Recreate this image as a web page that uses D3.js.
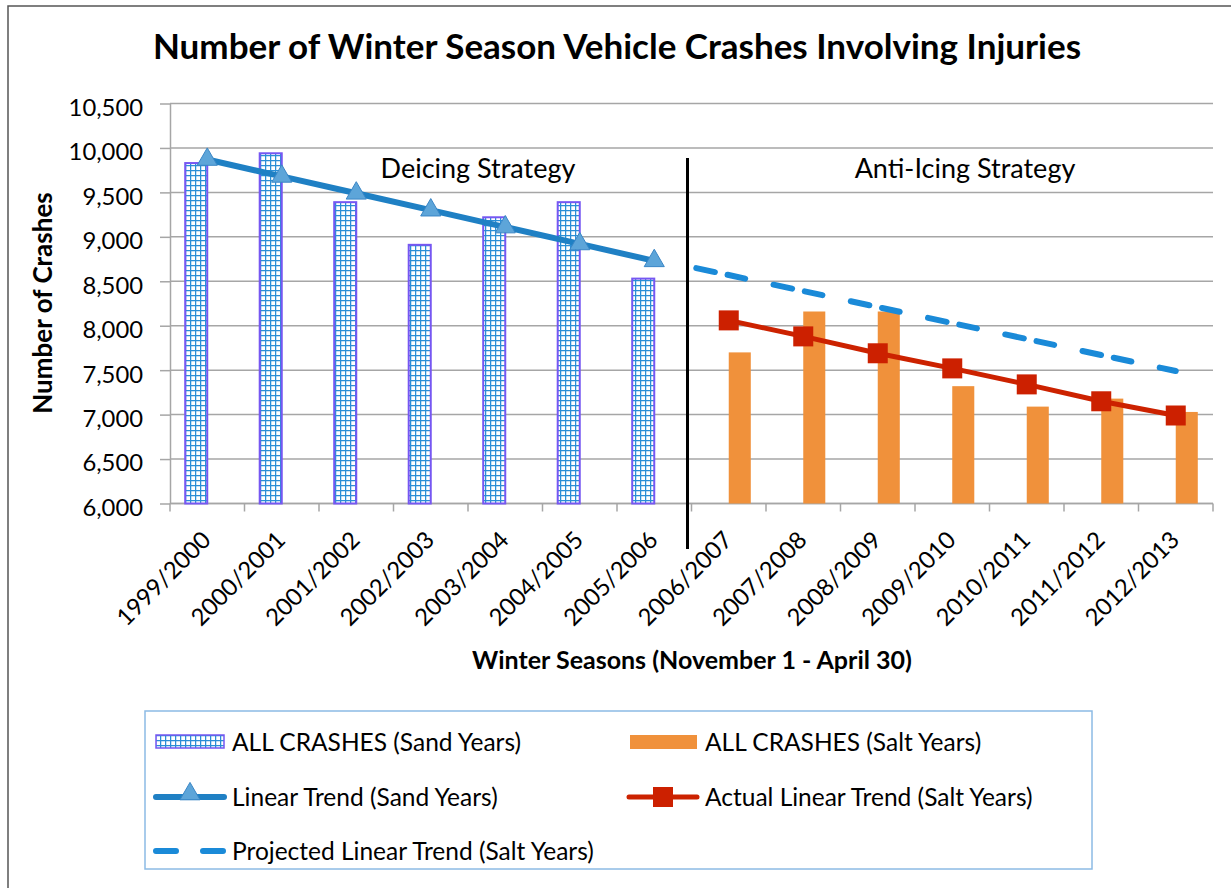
<!DOCTYPE html>
<html>
<head>
<meta charset="utf-8">
<script src="https://cdn.jsdelivr.net/npm/d3@7"></script>
<style>
  body { margin: 0; background: #fff; }
  text { font-family: Lato, "Open Sans", sans-serif; fill: #000; }
</style>
</head>
<body>
<div id="chart"></div>
<script>
// winter seasons (Nov 1 - Apr 30)
const seasons = ['1999/2000', '2000/2001', '2001/2002', '2002/2003', '2003/2004', '2004/2005', '2005/2006',
    '2006/2007', '2007/2008', '2008/2009', '2009/2010', '2010/2011', '2011/2012', '2012/2013'];
const sandSeasons = seasons.slice(0, 7);
const saltSeasons = seasons.slice(7);

// crashes
const sandCrashes = [9830, 9940, 9390, 8910, 9220, 9390, 8530];
const saltCrashes = [7700, 8160, 8160, 7320, 7090, 7180, 7030];
const sandTrend = [9870, 9680, 9490, 9300, 9110, 8920, 8730];
const saltTrend = [8060, 7880, 7690, 7520, 7340, 7150, 6990];
// projected trend starts from the last sand year
const projectedSeasons = seasons.slice(6);
const projectedTrend = [8750, 8570, 8390, 8210, 8030, 7850, 7670, 7490];
const yTicks = [6000, 6500, 7000, 7500, 8000, 8500, 9000, 9500, 10000, 10500];

const width = 1231, height = 888;
const margin = {top: 103.5, right: 18, bottom: 384.5, left: 170};
const plotRight = width - margin.right,
    plotBottom = height - margin.bottom;

const svg = d3.select('#chart')
    .append('svg')
    .attr('width', width)
    .attr('height', height);

const defs = svg.append('defs');
const pat = defs.append('pattern')
    .attr('id', 'grid')
    .attr('patternUnits', 'userSpaceOnUse')
    .attr('width', 5)
    .attr('height', 5);
pat.append('rect').attr('width', 5).attr('height', 5).attr('fill', '#fff');
pat.append('path')
    .attr('d', 'M0,0.6H5M0.6,0V5')
    .attr('stroke', '#2a8ed6')
    .attr('stroke-width', 1.3);

// outer chart frame (cut on the right and bottom)
svg.append('rect')
    .attr('x', 8).attr('y', 6)
    .attr('width', 1260).attr('height', 920)
    .attr('fill', 'none')
    .attr('stroke', '#555')
    .attr('stroke-width', 1.5);

const x = d3.scaleBand()
    .domain(seasons)
    .range([margin.left, plotRight])
    .padding(0);
const xSub = d3.scaleBand()
    .domain(['sand', 'salt'])
    .range([0, x.bandwidth()])
    .paddingInner(0)
    .paddingOuter(0.69);
const y = d3.scaleLinear()
    .domain([6000, 10500])
    .range([plotBottom, margin.top]);
const cx = s => x(s) + x.bandwidth() / 2;

// gridlines
svg.append('g')
    .selectAll('line')
    .data(yTicks)
    .join('line')
    .attr('x1', margin.left)
    .attr('x2', plotRight)
    .attr('y1', d => y(d))
    .attr('y2', d => y(d))
    .attr('stroke', '#a6a6a6')
    .attr('stroke-width', 1.5);

// y axis
const yAxis = svg.append('g')
    .attr('transform', `translate(${margin.left},0)`)
    .call(d3.axisLeft(y).tickValues(yTicks).tickSize(10).tickSizeOuter(0).tickPadding(17).tickFormat(d3.format(',')));
yAxis.selectAll('path, line').attr('stroke', '#a6a6a6').attr('stroke-width', 1.5);
yAxis.selectAll('text')
    .attr('font-size', '23.8px')
    .attr('font-family', 'Lato')
    .attr('fill', '#111')
    .attr('dy', '0.5em');

// x axis line and ticks between categories
svg.append('line')
    .attr('x1', margin.left).attr('x2', plotRight)
    .attr('y1', plotBottom).attr('y2', plotBottom)
    .attr('stroke', '#a6a6a6').attr('stroke-width', 1.5);
svg.append('g')
    .selectAll('line')
    .data(d3.range(seasons.length + 1))
    .join('line')
    .attr('x1', i => margin.left + i * x.step())
    .attr('x2', i => margin.left + i * x.step())
    .attr('y1', plotBottom)
    .attr('y2', plotBottom + 8)
    .attr('stroke', '#a6a6a6').attr('stroke-width', 1.5);

svg.append('g')
    .selectAll('text')
    .data(seasons)
    .join('text')
    .attr('transform', d => `translate(${cx(d) + 5},${plotBottom + 38}) rotate(-45)`)
    .attr('text-anchor', 'end')
    .attr('font-size', '23.8px')
    .attr('fill', '#111')
    .text(d => d);

// sand bars
svg.append('g')
    .selectAll('rect')
    .data(sandSeasons)
    .join('rect')
    .attr('x', (d, i) => x(d) + xSub('sand'))
    .attr('y', (d, i) => y(sandCrashes[i]))
    .attr('width', xSub.bandwidth())
    .attr('height', (d, i) => y(6000) - y(sandCrashes[i]))
    .attr('fill', 'url(#grid)')
    .attr('stroke', '#7657f2')
    .attr('stroke-width', 2);

// salt bars
svg.append('g')
    .selectAll('rect')
    .data(saltSeasons)
    .join('rect')
    .attr('x', (d, i) => x(d) + xSub('salt'))
    .attr('y', (d, i) => y(saltCrashes[i]))
    .attr('width', xSub.bandwidth())
    .attr('height', (d, i) => y(6000) - y(saltCrashes[i]))
    .attr('fill', '#f0913b');

// strategy divider
const divX = x(seasons[7]) - 4;
svg.append('line')
    .attr('x1', divX).attr('x2', divX)
    .attr('y1', 158).attr('y2', 549)
    .attr('stroke', '#000')
    .attr('stroke-width', 3);

const line = d3.line().x(d => cx(d[0])).y(d => y(d[1]));

// projected trend, shown from the divider on
defs.append('clipPath').attr('id', 'afterDiv')
    .append('rect')
    .attr('x', divX + 5).attr('y', 0)
    .attr('width', width).attr('height', height);
svg.append('path')
    .datum(d3.zip(projectedSeasons, projectedTrend))
    .attr('d', line)
    .attr('clip-path', 'url(#afterDiv)')
    .attr('fill', 'none')
    .attr('stroke', '#1a8ad8')
    .attr('stroke-width', 6)
    .attr('stroke-linecap', 'round')
    .attr('stroke-dasharray', '19,13,18,29')
    .attr('stroke-dashoffset', 36);

// sand trend
svg.append('path')
    .datum(d3.zip(sandSeasons, sandTrend))
    .attr('d', line)
    .attr('fill', 'none')
    .attr('stroke', '#1f80c4')
    .attr('stroke-width', 6);
svg.append('g')
    .selectAll('path')
    .data(d3.zip(sandSeasons, sandTrend))
    .join('path')
    .attr('transform', d => `translate(${cx(d[0])},${y(d[1])})`)
    .attr('d', d3.symbol(d3.symbolTriangle, 175))
    .attr('fill', '#5da5d9')
    .attr('stroke', '#3a86c6')
    .attr('stroke-width', 1);

// actual salt trend
svg.append('path')
    .datum(d3.zip(saltSeasons, saltTrend))
    .attr('d', line)
    .attr('fill', 'none')
    .attr('stroke', '#cc2200')
    .attr('stroke-width', 5);
svg.append('g')
    .selectAll('rect')
    .data(d3.zip(saltSeasons, saltTrend))
    .join('rect')
    .attr('x', d => cx(d[0]) - 10)
    .attr('y', d => y(d[1]) - 10)
    .attr('width', 20)
    .attr('height', 20)
    .attr('fill', '#cc2000');

// annotations
svg.append('text')
    .attr('x', 478).attr('y', 178)
    .attr('text-anchor', 'middle')
    .attr('font-size', '27px')
    .attr('fill', '#111')
    .text('Deicing Strategy');
svg.append('text')
    .attr('x', 965).attr('y', 178)
    .attr('text-anchor', 'middle')
    .attr('font-size', '27px')
    .attr('fill', '#111')
    .text('Anti-Icing Strategy');

// titles
svg.append('text')
    .attr('x', 617).attr('y', 59)
    .attr('text-anchor', 'middle')
    .attr('font-size', '35px')
    .attr('font-weight', 'bold')
    .text('Number of Winter Season Vehicle Crashes Involving Injuries');
svg.append('text')
    .attr('transform', 'translate(52,303) rotate(-90)')
    .attr('text-anchor', 'middle')
    .attr('font-size', '26px')
    .attr('font-weight', 'bold')
    .text('Number of Crashes');
svg.append('text')
    .attr('x', 692).attr('y', 669)
    .attr('text-anchor', 'middle')
    .attr('font-size', '25px')
    .attr('font-weight', 'bold')
    .text('Winter Seasons (November 1 - April 30)');

// legend
const legend = svg.append('g');
legend.append('rect')
    .attr('x', 145).attr('y', 711)
    .attr('width', 947).attr('height', 158)
    .attr('fill', 'none')
    .attr('stroke', '#8cbbe5')
    .attr('stroke-width', 1.5);

legend.append('rect')
    .attr('x', 156).attr('y', 735).attr('width', 68).attr('height', 13)
    .attr('fill', 'url(#grid)').attr('stroke', '#7657f2').attr('stroke-width', 1.5);
legend.append('rect')
    .attr('x', 630).attr('y', 735).attr('width', 67).attr('height', 14)
    .attr('fill', '#f0913b');
legend.append('line')
    .attr('x1', 156).attr('x2', 224).attr('y1', 797).attr('y2', 797)
    .attr('stroke', '#1f80c4').attr('stroke-width', 6).attr('stroke-linecap', 'round');
legend.append('path')
    .attr('transform', 'translate(190,794)')
    .attr('d', d3.symbol(d3.symbolTriangle, 175))
    .attr('fill', '#5da5d9').attr('stroke', '#3a86c6');
legend.append('line')
    .attr('x1', 629).attr('x2', 697).attr('y1', 797).attr('y2', 797)
    .attr('stroke', '#cc2200').attr('stroke-width', 5).attr('stroke-linecap', 'round');
legend.append('rect')
    .attr('x', 653).attr('y', 787).attr('width', 20).attr('height', 20)
    .attr('fill', '#cc2000');
legend.append('line')
    .attr('x1', 156).attr('x2', 224).attr('y1', 851).attr('y2', 851)
    .attr('stroke', '#1a8ad8').attr('stroke-width', 6).attr('stroke-linecap', 'round')
    .attr('stroke-dasharray', '20,27');

const legendItems = [
    ['ALL CRASHES (Sand Years)', 232, 742],
    ['ALL CRASHES (Salt Years)', 705, 742],
    ['Linear Trend (Sand Years)', 232, 797],
    ['Actual Linear Trend (Salt Years)', 705, 797],
    ['Projected Linear Trend (Salt Years)', 232, 851]
];
legend.selectAll('text.item')
    .data(legendItems)
    .join('text')
    .attr('class', 'item')
    .attr('x', d => d[1])
    .attr('y', d => d[2])
    .attr('dy', '0.36em')
    .attr('font-size', '24.5px')
    .attr('fill', '#111')
    .text(d => d[0]);
</script>
</body>
</html>
